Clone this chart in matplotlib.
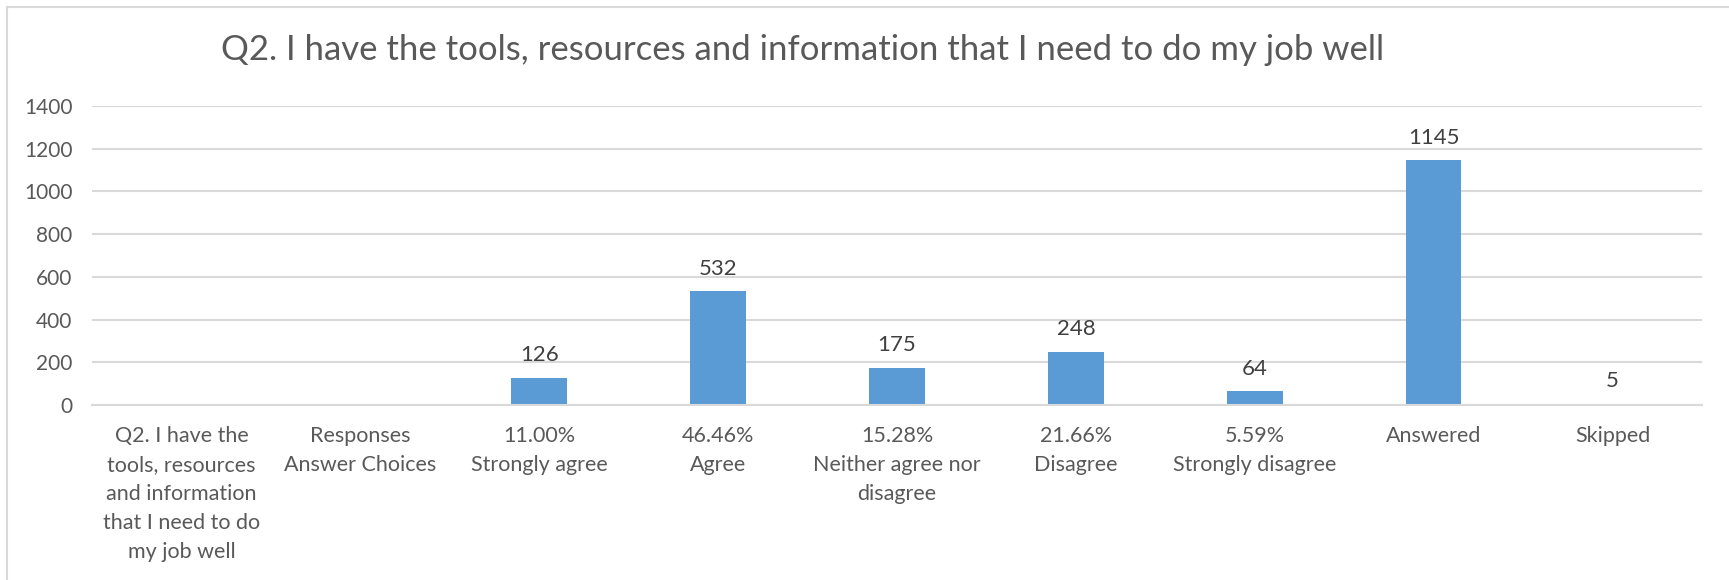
import matplotlib
matplotlib.use("Agg")
import matplotlib.pyplot as plt
import numpy as np
from matplotlib.lines import Line2D

# survey answers for Q2
categories = [
    "Q2. I have the\ntools, resources\nand information\nthat I need to do\nmy job well",
    "Responses\nAnswer Choices",
    "11.00%\nStrongly agree",
    "46.46%\nAgree",
    "15.28%\nNeither agree nor\ndisagree",
    "21.66%\nDisagree",
    "5.59%\nStrongly disagree",
    "Answered",
    "Skipped",
]
counts = [np.nan, np.nan, 126, 532, 175, 248, 64, 1145, 5]
yticks = [0, 200, 400, 600, 800, 1000, 1200, 1400]
title = "Q2. I have the tools, resources and information that I need to do my job well"

text_color = "#595959"
grid_color = "#D9D9D9"
bar_color = "#5B9BD5"

plt.rcParams["font.family"] = ["Lato", "DejaVu Sans"]

fig = plt.figure(figsize=(17.29, 5.80), dpi=100)
ax = fig.add_axes([0.0532, 0.3017, 0.9312, 0.5155])

x = np.arange(len(categories))
bars = ax.bar(x, counts, width=0.31, color=bar_color, zorder=3)

for xi, v in zip(x, counts):
    if np.isnan(v):
        continue
    ax.annotate(str(int(v)), (xi, v), xytext=(0, 12), textcoords="offset points",
                ha="center", va="baseline", fontsize=16, color="#404040")

ax.set_xlim(-0.5, len(categories) - 0.5)
ax.set_ylim(0, 1400)
ax.set_yticks(yticks)
ax.set_xticks(x)
ax.set_xticklabels(categories, linespacing=1.56)
ax.tick_params(axis="x", length=0, labelsize=15.5, labelcolor=text_color, pad=15)
ax.tick_params(axis="y", length=0, labelsize=15, labelcolor=text_color, pad=14)
ax.yaxis.grid(True, color=grid_color, linewidth=1.5, zorder=0)

for side in ["top", "right", "left"]:
    ax.spines[side].set_visible(False)
ax.spines["bottom"].set_color(grid_color)
ax.spines["bottom"].set_linewidth(1.5)
ax.spines["bottom"].set_zorder(4)

fig.text(0.4644, 0.9138, title, ha="center", va="center", fontsize=25, color=text_color)

# chart area frame (top and left edges)
fig.add_artist(Line2D([7 / 1729, 1.0], [1 - 7 / 580] * 2, color=grid_color, linewidth=1.5,
                      transform=fig.transFigure))
fig.add_artist(Line2D([7 / 1729] * 2, [0.0, 1 - 7 / 580], color=grid_color, linewidth=1.5,
                      transform=fig.transFigure))

fig.savefig("out.png", dpi=100)
